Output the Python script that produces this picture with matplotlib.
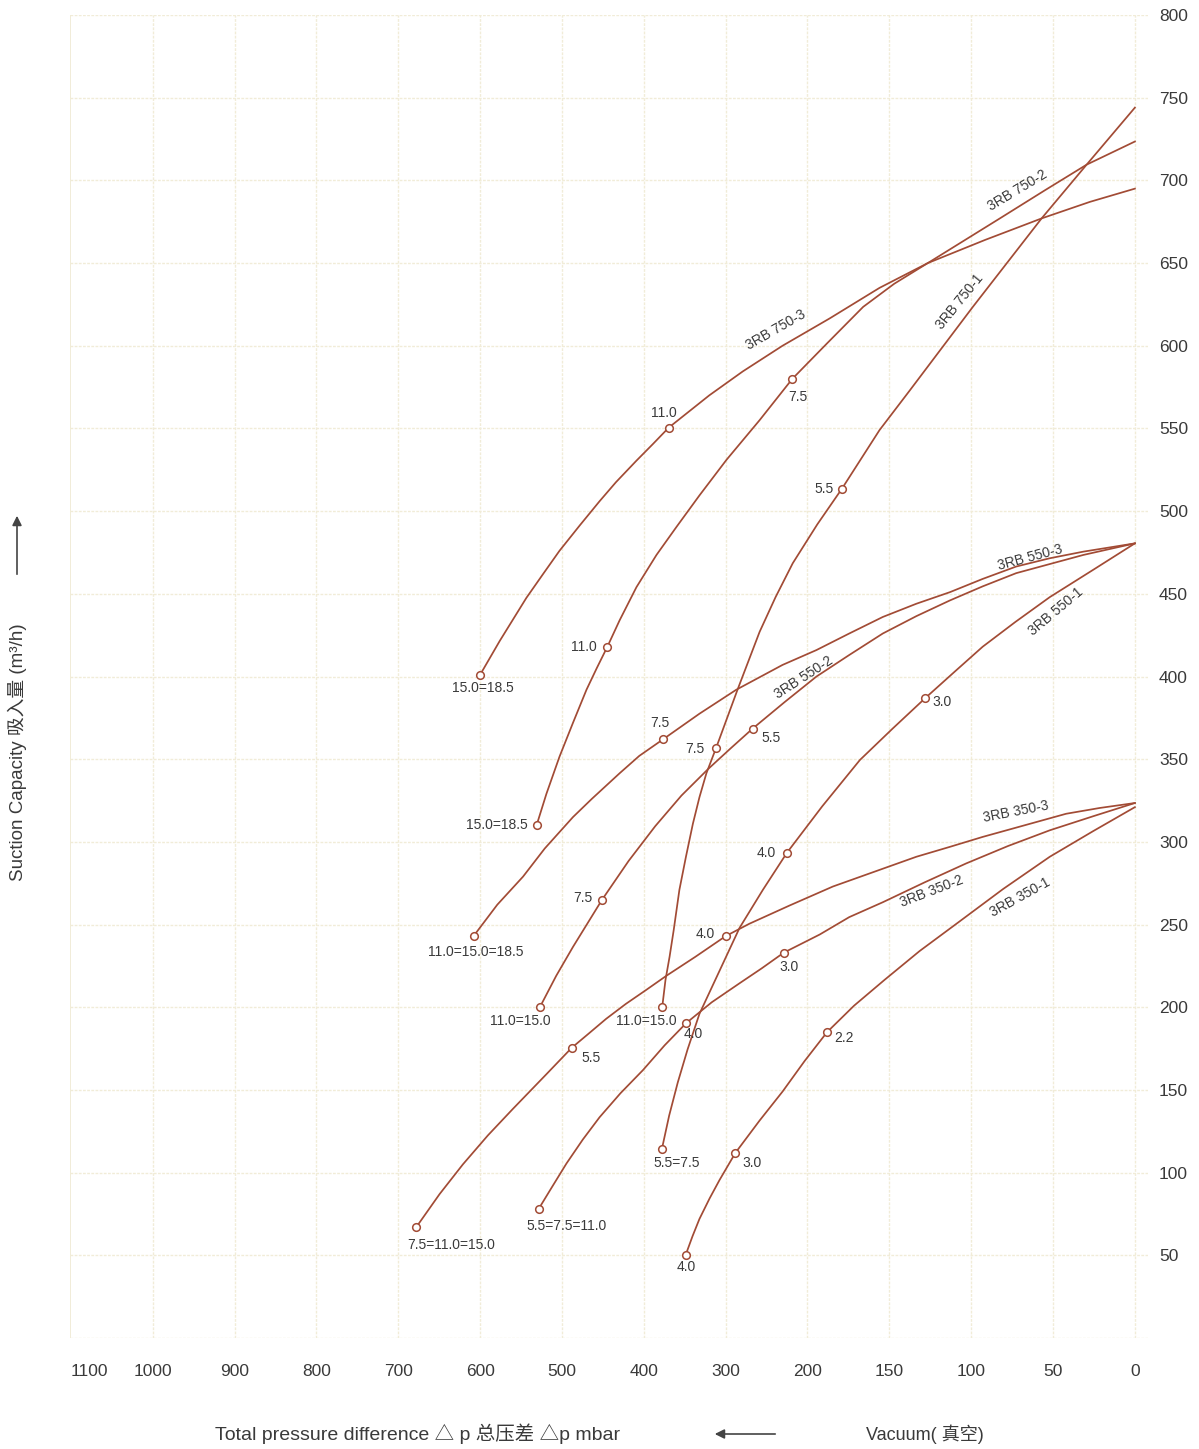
import numpy as np
import matplotlib
matplotlib.use("Agg")
import matplotlib.pyplot as plt


# x axis: total pressure difference (mbar), uneven tick spacing
dp_ticks = [0, 50, 100, 150, 200, 300, 400, 500, 600, 700, 800, 900, 1000, 1100]
dp_tick_labels = ["0", "50", "100", "150", "200", "300", "400", "500",
                  "600", "700", "800", "900", "1000", "1100"]
# y axis: suction capacity (m3/h)
q_ticks = [0, 50, 100, 150, 200, 250, 300, 350, 400, 450, 500, 550, 600, 650, 700, 750, 800]
q_tick_labels = ["", "50", "100", "150", "200", "250", "300", "350", "400", "450",
                 "500", "550", "600", "650", "700", "750", "800"]

# curves (dp in mbar, q in m3/h)
rb750_3_dp = [600, 576, 543.5, 523, 503, 478, 454, 434, 409, 389, 369.5, 320, 279, 230.5,
              186.5, 156, 126.5, 91.5, 57, 27.5, 0]
rb750_3_q = [401, 421.5, 447.5, 462, 476, 491.5, 506, 517.5, 530.5, 540.5, 550.5, 570, 584.5, 600,
             616.5, 635, 650, 664, 677, 687, 695]
rb750_2_dp = [531, 519, 503, 486.5, 470, 457.5, 444.5, 429.5, 409, 384.5, 360, 332, 299, 258.5,
              218.5, 188, 166, 147, 126.5, 82.5, 55, 29.5, 0]
rb750_2_q = [310, 329, 351.5, 372, 392, 405, 418, 434, 454, 473.5, 490.5, 509.5, 531, 555,
             580, 601.5, 623.5, 637.5, 650, 677, 694, 709.5, 723.5]
rb750_1_dp = [377.5, 373.5, 368.5, 363.5, 356.5, 348.5, 340, 332, 323.5, 311.5, 285.5, 258.5,
              239, 218, 194, 179, 156, 137.5, 99, 57, 29.5, 0]
rb750_1_q = [200, 216.5, 230.5, 246.5, 271, 291, 311, 327, 341.5, 357, 392, 427,
             448, 468.5, 492, 513.5, 549, 573, 623.5, 677, 709.5, 744]

rb550_3_dp = [608, 579, 547.5, 521, 486.5, 463.5, 429.5, 405.5, 376.5, 332, 287, 230.5,
              194.5, 174.5, 154, 133.5, 113, 93, 72.5, 52, 31.5, 0]
rb550_3_q = [243, 262, 279, 296, 315, 326, 341.5, 352, 362, 377.5, 392, 407,
             416, 426, 436, 444, 451, 459, 466.5, 471.5, 475.5, 480.5]
rb550_2_dp = [527, 507, 486.5, 451, 418.5, 386, 354, 321.5, 294, 267, 228, 194.5, 174.5,
              154, 133.5, 113, 93, 72.5, 52, 31.5, 0]
rb550_2_q = [200, 219, 236.5, 265, 288.5, 309.5, 328, 344, 356.5, 368.5, 384.5, 400, 413,
             426, 436.5, 446, 454.5, 462.5, 468, 473.5, 480.5]
rb550_1_dp = [378, 369, 358.5, 346.5, 332, 307.5, 283, 254.5, 225, 191, 168, 148, 128,
              110, 93, 73, 52, 25.5, 0]
rb550_1_q = [114, 134.5, 154.5, 174.5, 196, 222, 248, 271, 293.5, 321.5, 349.5, 368.5, 387,
             403, 418, 433, 448, 464.5, 480.5]

rb350_3_dp = [678, 649.5, 621, 590.5, 560, 519, 488, 467.5, 446, 422, 397, 372.5, 337, 300,
              271, 222, 184.5, 159, 133.5, 113, 93, 67.5, 42, 21.5, 0]
rb350_3_q = [67, 87, 105, 122.5, 138.5, 159.5, 175.5, 184, 193, 202, 210.5, 219, 230.5, 243,
             250.5, 261.5, 273, 282, 291, 297, 303, 310, 317, 320.5, 323.5]
rb350_2_dp = [528.5, 512.5, 494.5, 474.5, 454, 428.5, 401, 374.5, 348, 317, 283, 256, 229,
              192.5, 174.5, 154, 128.5, 103, 77.5, 52, 25.5, 0]
rb350_2_q = [78, 91, 105.5, 120, 133.5, 148, 162, 177, 190.5, 203, 214.5, 223.5, 233,
             244, 254.5, 263.5, 275.5, 287, 297.5, 307, 315.5, 323.5]
rb350_1_dp = [349, 340.5, 332, 319.5, 307.5, 288, 258.5, 230.5, 203.5, 188, 171.5, 153,
              131.5, 109, 80.5, 52, 25.5, 0]
rb350_1_q = [50, 61.5, 72, 84.5, 95.5, 112, 131.5, 149, 167.5, 185, 201, 216.5,
             234, 250.5, 271.5, 291, 306.5, 321]

# motor power marks (kW) on each curve
rb750_3_mk_dp = [600, 369.5]
rb750_3_mk_q = [401, 550.5]
rb750_3_mk_lab = ["15.0=18.5", "11.0"]
rb750_2_mk_dp = [531, 444.5, 218.5]
rb750_2_mk_q = [310, 418, 580]
rb750_2_mk_lab = ["15.0=18.5", "11.0", "7.5"]
rb750_1_mk_dp = [377.5, 311.5, 179]
rb750_1_mk_q = [200, 357, 513.5]
rb750_1_mk_lab = ["11.0=15.0", "7.5", "5.5"]

rb550_3_mk_dp = [608, 376.5]
rb550_3_mk_q = [243, 362]
rb550_3_mk_lab = ["11.0=15.0=18.5", "7.5"]
rb550_2_mk_dp = [527, 451, 267]
rb550_2_mk_q = [200, 265, 368.5]
rb550_2_mk_lab = ["11.0=15.0", "7.5", "5.5"]
rb550_1_mk_dp = [378, 225, 128]
rb550_1_mk_q = [114, 293.5, 387]
rb550_1_mk_lab = ["5.5=7.5", "4.0", "3.0"]

rb350_3_mk_dp = [678, 488, 300]
rb350_3_mk_q = [67, 175.5, 243]
rb350_3_mk_lab = ["7.5=11.0=15.0", "5.5", "4.0"]
rb350_2_mk_dp = [528.5, 348, 229]
rb350_2_mk_q = [78, 190.5, 233]
rb350_2_mk_lab = ["5.5=7.5=11.0", "4.0", "3.0"]
rb350_1_mk_dp = [349, 288, 188]
rb350_1_mk_q = [50, 112, 185]
rb350_1_mk_lab = ["4.0", "3.0", "2.2"]

curve_names = ["3RB 750-3", "3RB 750-2", "3RB 750-1",
               "3RB 550-3", "3RB 550-2", "3RB 550-1",
               "3RB 350-3", "3RB 350-2", "3RB 350-1"]

# --- layout / style (not data) ---
tick_pos = [0, 1, 2, 3, 4, 5, 6, 7, 8, 9, 10, 11, 12, 12.77]
name_dp = [239, 72, 107, 64, 205, 48, 73, 124, 70]
name_q = [609.5, 694, 626.5, 472, 399.5, 439, 318.5, 270, 266.5]
name_rot = [30, 31, 51, 15, 33, 40, 11, 21, 29]
# label offsets in pixels (dx, dy) from each mark
mk_off = [
    [(3, -13), (-5, 15)],
    [(-40, 0), (-23, 0), (6, -18)],
    [(-16, -14), (-21, -1), (-18, 0)],
    [(2, -16), (-3, 16)],
    [(-20, -14), (-19, 2), (18, -9)],
    [(15, -14), (-21, 0), (17, -4)],
    [(35, -18), (19, -10), (-20, 2)],
    [(28, -17), (7, -11), (5, -14)],
    [(1, -12), (17, -10), (17, -6)],
]

line_color = "#a24b35"
text_color = "#3a3a3a"
grid_color = "#f1ecd8"

ext_vals = [-50] + dp_ticks + [1200]
ext_pos = [-1] + tick_pos + [tick_pos[-1] + 0.77]


def forward(x):
    return np.interp(x, ext_vals, ext_pos)


def inverse(p):
    return np.interp(p, ext_pos, ext_vals)


def draw_chart():
    plt.rcParams["font.family"] = ["Liberation Sans", "Noto Sans CJK SC"]
    fig = plt.figure(figsize=(11.99, 14.49), dpi=100)
    ax = fig.add_axes([70 / 1199, 111 / 1449, 1078 / 1199, 1323 / 1449])

    ax.set_xscale("function", functions=(forward, inverse))
    x_left = inverse(13.01)
    ax.set_xlim(x_left, inverse(-0.16))
    ax.set_ylim(0, 800)

    ax.set_xticks(dp_ticks)
    ax.set_xticklabels(dp_tick_labels)
    ax.set_yticks(q_ticks)
    ax.set_yticklabels(q_tick_labels)
    ax.yaxis.tick_right()
    ax.tick_params(axis="x", length=0, pad=19, labelsize=12.5, colors=text_color)
    ax.tick_params(axis="y", length=0, pad=8, labelsize=12.5, colors=text_color)
    ax.minorticks_off()
    for s in ax.spines.values():
        s.set_visible(False)
    ax.grid(True, color=grid_color, linewidth=1.0, linestyle=(0, (2, 1)))
    ax.get_xgridlines()[-1].set_visible(False)
    ax.axvline(x_left, color=grid_color, linewidth=1.4, zorder=0)
    ax.set_axisbelow(True)

    curves = [
        (rb750_3_dp, rb750_3_q, rb750_3_mk_dp, rb750_3_mk_q, rb750_3_mk_lab),
        (rb750_2_dp, rb750_2_q, rb750_2_mk_dp, rb750_2_mk_q, rb750_2_mk_lab),
        (rb750_1_dp, rb750_1_q, rb750_1_mk_dp, rb750_1_mk_q, rb750_1_mk_lab),
        (rb550_3_dp, rb550_3_q, rb550_3_mk_dp, rb550_3_mk_q, rb550_3_mk_lab),
        (rb550_2_dp, rb550_2_q, rb550_2_mk_dp, rb550_2_mk_q, rb550_2_mk_lab),
        (rb550_1_dp, rb550_1_q, rb550_1_mk_dp, rb550_1_mk_q, rb550_1_mk_lab),
        (rb350_3_dp, rb350_3_q, rb350_3_mk_dp, rb350_3_mk_q, rb350_3_mk_lab),
        (rb350_2_dp, rb350_2_q, rb350_2_mk_dp, rb350_2_mk_q, rb350_2_mk_lab),
        (rb350_1_dp, rb350_1_q, rb350_1_mk_dp, rb350_1_mk_q, rb350_1_mk_lab),
    ]

    for i, (xs, ys, mx, my, labs) in enumerate(curves):
        ax.plot(xs, ys, color=line_color, linewidth=1.25, zorder=3,
                solid_joinstyle="round")
        ax.plot(mx, my, "o", markersize=5.5, markerfacecolor="white",
                markeredgecolor=line_color, markeredgewidth=1.1, zorder=4)
        for j, lab in enumerate(labs):
            ax.annotate(lab, (mx[j], my[j]), xytext=mk_off[i][j], textcoords="offset pixels",
                        ha="center", va="center", fontsize=10, color=text_color, zorder=5)
        ax.text(name_dp[i], name_q[i], curve_names[i], rotation=name_rot[i],
                rotation_mode="anchor", ha="center", va="center",
                fontsize=10, color=text_color, zorder=5)

    # axis titles and arrows
    fig.text(418 / 1199, 1 - 1434 / 1449, "Total pressure difference △ p 总压差 △p mbar",
             ha="center", va="center", fontsize=14, color=text_color)
    fig.text(925 / 1199, 1 - 1434 / 1449, "Vacuum( 真空)",
             ha="center", va="center", fontsize=13, color=text_color)
    ax.annotate("", xy=(712 / 1199, 1 - 1434 / 1449), xytext=(778 / 1199, 1 - 1434 / 1449),
                xycoords="figure fraction", textcoords="figure fraction",
                arrowprops=dict(arrowstyle="-|>", color="#444444", lw=1.2,
                                mutation_scale=14))
    fig.text(17 / 1199, 1 - 752 / 1449, "Suction Capacity 吸入量 (m³/h)",
             rotation=90, ha="center", va="center", fontsize=13.5, color=text_color)
    ax.annotate("", xy=(17 / 1199, 1 - 513 / 1449), xytext=(17 / 1199, 1 - 577 / 1449),
                xycoords="figure fraction", textcoords="figure fraction",
                arrowprops=dict(arrowstyle="-|>", color="#444444", lw=1.2,
                                mutation_scale=14))

    fig.savefig("out.png", dpi=100, facecolor="white")


if __name__ == "__main__":
    draw_chart()
